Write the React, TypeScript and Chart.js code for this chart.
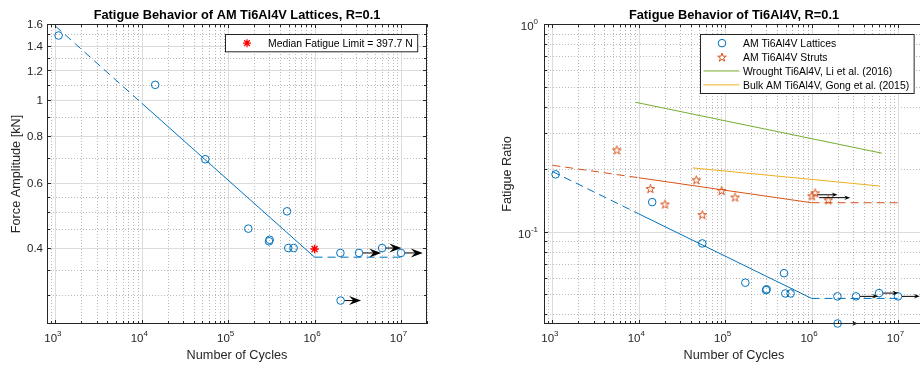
import React, { useEffect, useRef } from "react";
import { Chart, registerables } from "chart.js";

Chart.register(...registerables);

const FONT = "'Liberation Sans', Arial, Helvetica, sans-serif";
const BLUE = "#0072BD";
const ORANGE = "#D95319";
const GREEN = "#77AC30";
const YELLOW = "#EDB120";
const RED = "#FF0000";
const AXIS = "#262626";

// ---------------- shared x axis (Number of Cycles) ----------------
const cycleMin = 800;
const cycleMax = 2e7;
const cycleMajorTicks = [1e3, 1e4, 1e5, 1e6, 1e7];
const cycleTickExponents = ["3", "4", "5", "6", "7"];

// ---------------- lattice specimens (both charts) ----------------
const latticeCycles = [1090, 14300, 54300, 171000, 297000, 302000, 480000, 496000, 572000, 1990000, 3270000, 6040000, 10000000, 2000000];
const latticeForceKN = [1.49, 1.098, 0.693, 0.451, 0.417, 0.421, 0.502, 0.4, 0.4, 0.388, 0.388, 0.4, 0.388, 0.289];
const latticeFatigueRatio = [0.189, 0.139, 0.0879, 0.0569, 0.0524, 0.0529, 0.0632, 0.0505, 0.0505, 0.0489, 0.0489, 0.0507, 0.0489, 0.0362];

// run-outs (arrows)
const runoutStartCycles = [2000000, 3270000, 6040000, 10000000];
const runoutEndCycles = [3450000, 5900000, 10100000, 17900000];
const runoutForceKN = [0.289, 0.388, 0.4, 0.388];
const runoutFatigueRatio = [0.0362, 0.0489, 0.0507, 0.0489];

// lattice fit (S-N curve + endurance plateau)
const fitCycles = [1e3, 1e4, 1e6, 1e7];
const latticeFitForceKN = [1.58, 0.98, 0.378, 0.378];
const latticeFitRatio = [0.195, 0.122, 0.0478, 0.0478];

// median fatigue limit
const medianCycles = [1e6];
const medianForceKN = [0.3977];

// left y axis
const forceMin = 0.25;
const forceMax = 1.6;
const forceTicks = [0.4, 0.6, 0.8, 1, 1.2, 1.4, 1.6];
const forceTickLabels = ["0.4", "0.6", "0.8", "1", "1.2", "1.4", "1.6"];
const forceMinorTicks = [0.3, 0.35, 0.45, 0.5, 0.55, 0.7, 0.9, 1.1, 1.3, 1.5];

// ---------------- struts (right chart) ----------------
const strutCycles = [5570, 13600, 20100, 46300, 54300, 91000, 130000, 1010000, 1100000, 1560000];
const strutRatio = [0.248, 0.1615, 0.136, 0.178, 0.121, 0.158, 0.147, 0.149, 0.154, 0.1425];
const strutFitRatio = [0.209, 0.182, 0.138, 0.138];
const strutRunoutStart = [1050000, 1100000];
const strutRunoutEnd = [2000000, 2800000];
const strutRunoutRatio = [0.1507, 0.146];

// literature curves
const wroughtCycles = [9200, 6500000];
const wroughtRatio = [0.42, 0.239];
const bulkCycles = [42000, 6200000];
const bulkRatio = [0.203, 0.166];

// right y axis
const ratioMin = 0.036;
const ratioMax = 1;
const ratioTicks = [0.1, 1];
const ratioTickExponents = ["-1", "0"];

// labels
const leftTitle = "Fatigue Behavior of AM Ti6Al4V Lattices, R=0.1";
const rightTitle = "Fatigue Behavior of Ti6Al4V, R=0.1";
const xTitle = "Number of Cycles";
const leftYTitle = "Force Amplitude [kN]";
const rightYTitle = "Fatigue Ratio";
const leftLegendLabels = ["Median Fatigue Limit = 397.7 N"];
const rightLegendLabels = [
  "AM Ti6Al4V Lattices",
  "AM Ti6Al4V Struts",
  "Wrought Ti6Al4V, Li et al. (2016)",
  "Bulk AM Ti6Al4V, Gong et al. (2015)",
];

function logMinor(lo: number, hi: number): number[] {
  const out: number[] = [];
  for (let e = -3; e <= 8; e++) {
    for (let m = 2; m <= 9; m++) {
      const v = m * Math.pow(10, e);
      if (v >= lo * 0.999 && v <= hi * 1.001) out.push(v);
    }
  }
  return out;
}

function pts(xs: number[], ys: number[]) {
  return xs.map((x, i) => ({ x, y: ys[i] }));
}

function drawPentagram(ctx: CanvasRenderingContext2D, x: number, y: number, R: number, color: string, lw: number) {
  const r = R * 0.382;
  ctx.beginPath();
  for (let i = 0; i < 10; i++) {
    const rad = i % 2 === 0 ? R : r;
    const a = -Math.PI / 2 + (i * Math.PI) / 5;
    const px = x + rad * Math.cos(a);
    const py = y + rad * Math.sin(a);
    if (i === 0) ctx.moveTo(px, py);
    else ctx.lineTo(px, py);
  }
  ctx.closePath();
  ctx.strokeStyle = color;
  ctx.lineWidth = lw;
  ctx.stroke();
}

function drawAsterisk(ctx: CanvasRenderingContext2D, x: number, y: number, r: number, color: string) {
  ctx.strokeStyle = color;
  ctx.lineWidth = 1.3;
  ctx.beginPath();
  ctx.moveTo(x - r, y);
  ctx.lineTo(x + r, y);
  ctx.moveTo(x, y - r);
  ctx.lineTo(x, y + r);
  const d = r * 0.7071;
  ctx.moveTo(x - d, y - d);
  ctx.lineTo(x + d, y + d);
  ctx.moveTo(x - d, y + d);
  ctx.lineTo(x + d, y - d);
  ctx.stroke();
}

function drawArrow(ctx: CanvasRenderingContext2D, x0: number, x1: number, y: number, L: number, W: number) {
  ctx.strokeStyle = "#000";
  ctx.fillStyle = "#000";
  ctx.lineWidth = 1;
  ctx.beginPath();
  ctx.moveTo(x0, y);
  ctx.lineTo(x1 - L * 0.6, y);
  ctx.stroke();
  ctx.beginPath();
  ctx.moveTo(x1, y);
  ctx.lineTo(x1 - L, y - W / 2);
  ctx.lineTo(x1 - L * 0.65, y);
  ctx.lineTo(x1 - L, y + W / 2);
  ctx.closePath();
  ctx.fill();
}

type LegendItem = { kind: "circle" | "pentagram" | "asterisk" | "line"; color: string; label: string };
type ArrowSet = { start: number[]; end: number[]; y: number[]; L: number; W: number };
type Decor = {
  title: string;
  xLabel: string;
  yLabel: string;
  yLabelBaseline: number;
  yMajor: number[];
  yMinor: number[];
  yPlainLabels?: string[];
  yExpLabels?: string[];
  yLabelGap: number;
  legend: LegendItem[];
  arrows: ArrowSet[];
};

function powLabel(ctx: CanvasRenderingContext2D, exp: string, x: number, baseCenterY: number, align: "center" | "right") {
  ctx.font = `11.5px ${FONT}`;
  const wb = ctx.measureText("10").width;
  ctx.font = `8px ${FONT}`;
  const we = ctx.measureText(exp).width;
  const w = wb + we;
  const x0 = align === "center" ? x - w / 2 - 2.5 : x - w;
  ctx.textAlign = "left";
  ctx.textBaseline = "alphabetic";
  ctx.fillStyle = AXIS;
  ctx.font = `11.5px ${FONT}`;
  ctx.fillText("10", x0, baseCenterY + 4.1);
  ctx.font = `8px ${FONT}`;
  ctx.fillText(exp, x0 + wb, baseCenterY - 5 + 2.9);
}

function makeDecor(d: Decor) {
  const xMinor = logMinor(cycleMin, cycleMax);
  return {
    id: "matlabDecor",
    beforeDatasetsDraw(chart: any) {
      const { ctx, chartArea: a, scales } = chart;
      const xs = scales.x;
      const ys = scales.y;
      ctx.save();
      ctx.lineWidth = 1;
      ctx.strokeStyle = "rgba(38,38,38,0.32)";
      ctx.setLineDash([1, 2]);
      ctx.beginPath();
      for (const v of xMinor) {
        const px = Math.round(xs.getPixelForValue(v)) + 0.5;
        ctx.moveTo(px, a.top);
        ctx.lineTo(px, a.bottom);
      }
      for (const v of d.yMinor) {
        const py = Math.round(ys.getPixelForValue(v)) + 0.5;
        ctx.moveTo(a.left, py);
        ctx.lineTo(a.right, py);
      }
      ctx.stroke();
      ctx.setLineDash([]);
      ctx.strokeStyle = "#dcdcdc";
      ctx.beginPath();
      for (const v of cycleMajorTicks) {
        const px = Math.round(xs.getPixelForValue(v)) + 0.5;
        ctx.moveTo(px, a.top);
        ctx.lineTo(px, a.bottom);
      }
      for (const v of d.yMajor) {
        const py = Math.round(ys.getPixelForValue(v)) + 0.5;
        ctx.moveTo(a.left, py);
        ctx.lineTo(a.right, py);
      }
      ctx.stroke();
      ctx.restore();
    },
    afterDatasetsDraw(chart: any) {
      const { ctx, chartArea: a, scales } = chart;
      const xs = scales.x;
      const ys = scales.y;
      ctx.save();
      // arrows
      for (const set of d.arrows) {
        set.start.forEach((s, i) => {
          const x0 = xs.getPixelForValue(s) + 4;
          const x1 = xs.getPixelForValue(set.end[i]);
          const y = ys.getPixelForValue(set.y[i]);
          drawArrow(ctx, x0, x1, y, set.L, set.W);
        });
      }
      // frame
      ctx.strokeStyle = AXIS;
      ctx.lineWidth = 1;
      ctx.strokeRect(a.left + 0.5, a.top + 0.5, a.right - a.left - 1, a.bottom - a.top - 1);
      // tick marks (inward, all four sides)
      ctx.beginPath();
      const tx = (v: number, len: number) => {
        const px = Math.round(xs.getPixelForValue(v)) + 0.5;
        ctx.moveTo(px, a.bottom);
        ctx.lineTo(px, a.bottom - len);
        ctx.moveTo(px, a.top);
        ctx.lineTo(px, a.top + len);
      };
      const ty = (v: number, len: number) => {
        const py = Math.round(ys.getPixelForValue(v)) + 0.5;
        ctx.moveTo(a.left, py);
        ctx.lineTo(a.left + len, py);
        ctx.moveTo(a.right, py);
        ctx.lineTo(a.right - len, py);
      };
      cycleMajorTicks.forEach((v) => tx(v, 4));
      xMinor.forEach((v) => tx(v, 3));
      d.yMajor.forEach((v) => ty(v, 4));
      d.yMinor.forEach((v) => ty(v, 3));
      ctx.stroke();

      // legend
      const n = d.legend.length;
      ctx.font = `10.4px ${FONT}`;
      const tw = Math.max(...d.legend.map((it) => ctx.measureText(it.label).width));
      const w = 42.5 + tw + 5;
      const h = 17.3 + (n - 1) * 13.9;
      const lx = Math.round(a.right - 10 - w) + 0.5;
      const ly = Math.round(a.top + 10) + 0.5;
      ctx.fillStyle = "#fff";
      ctx.fillRect(lx, ly, w, h);
      ctx.strokeStyle = AXIS;
      ctx.lineWidth = 1;
      ctx.strokeRect(lx, ly, w, h);
      d.legend.forEach((it, i) => {
        const cy = ly + 8.65 + i * 13.9;
        const mx = lx + 21.5;
        if (it.kind === "circle") {
          ctx.beginPath();
          ctx.arc(mx, cy, 3.8, 0, Math.PI * 2);
          ctx.strokeStyle = it.color;
          ctx.lineWidth = 1;
          ctx.stroke();
        } else if (it.kind === "pentagram") {
          drawPentagram(ctx, mx, cy + 0.5, 4.5, it.color, 1);
        } else if (it.kind === "asterisk") {
          drawAsterisk(ctx, mx, cy, 4, it.color);
        } else {
          ctx.strokeStyle = it.color;
          ctx.lineWidth = 1;
          ctx.beginPath();
          ctx.moveTo(lx + 3, cy);
          ctx.lineTo(lx + 39, cy);
          ctx.stroke();
        }
        ctx.fillStyle = "#000";
        ctx.font = `10.4px ${FONT}`;
        ctx.textAlign = "left";
        ctx.textBaseline = "alphabetic";
        ctx.fillText(it.label, lx + 42.5, cy + 3.7);
      });
      ctx.restore();
    },
    afterDraw(chart: any) {
      const { ctx, chartArea: a, scales } = chart;
      const xs = scales.x;
      const ys = scales.y;
      ctx.save();
      // x tick labels
      cycleMajorTicks.forEach((v, i) => {
        powLabel(ctx, cycleTickExponents[i], xs.getPixelForValue(v), a.bottom + 14, "center");
      });
      // y tick labels
      d.yMajor.forEach((v, i) => {
        const py = ys.getPixelForValue(v);
        if (d.yPlainLabels) {
          ctx.font = `11.5px ${FONT}`;
          ctx.fillStyle = AXIS;
          ctx.textAlign = "right";
          ctx.textBaseline = "alphabetic";
          ctx.fillText(d.yPlainLabels[i], a.left - d.yLabelGap, py + 4.2);
        } else if (d.yExpLabels) {
          powLabel(ctx, d.yExpLabels[i], a.left - d.yLabelGap, py + 2.3, "right");
        }
      });
      // titles
      const cx = (a.left + a.right) / 2;
      ctx.fillStyle = "#000";
      ctx.font = `bold 12.8px ${FONT}`;
      ctx.textAlign = "center";
      ctx.textBaseline = "alphabetic";
      ctx.fillText(d.title, cx, 19.3);
      ctx.fillStyle = AXIS;
      ctx.font = `12.7px ${FONT}`;
      ctx.fillText(d.xLabel, cx, a.bottom + 35);
      ctx.save();
      ctx.translate(a.left - d.yLabelBaseline, (a.top + a.bottom) / 2);
      ctx.rotate(-Math.PI / 2);
      ctx.fillText(d.yLabel, 0, 0);
      ctx.restore();
      ctx.restore();
    },
  };
}

function makeScales(yMin: number, yMax: number, yWidth: number) {
  return {
    x: {
      type: "logarithmic",
      min: cycleMin,
      max: cycleMax,
      bounds: "data",
      ticks: { display: false },
      grid: { display: false, drawTicks: false },
      border: { display: false },
      afterFit: (s: any) => {
        s.height = 41;
      },
    },
    y: {
      type: "logarithmic",
      min: yMin,
      max: yMax,
      bounds: "data",
      ticks: { display: false },
      grid: { display: false, drawTicks: false },
      border: { display: false },
      afterFit: (s: any) => {
        s.width = yWidth;
      },
    },
  };
}

function lineDs(xs: number[], ys: number[], color: string, dash: number[]) {
  return {
    data: pts(xs, ys),
    showLine: true,
    borderColor: color,
    borderWidth: 1,
    borderDash: dash,
    pointRadius: 0,
    fill: false,
  };
}

const DASH = [8, 5];

export default function App() {
  const leftRef = useRef<HTMLCanvasElement>(null);
  const rightRef = useRef<HTMLCanvasElement>(null);

  useEffect(() => {
    // pentagram point style
    const star = document.createElement("canvas");
    star.width = 13;
    star.height = 13;
    const sctx = star.getContext("2d")!;
    drawPentagram(sctx, 6.5, 7, 4.6, ORANGE, 1);

    const common = {
      animation: false as const,
      responsive: false,
      events: [] as any[],
      plugins: { legend: { display: false }, tooltip: { enabled: false }, title: { display: false } },
    };

    const left = new Chart(leftRef.current!, {
      type: "scatter",
      data: {
        datasets: [
          lineDs(fitCycles.slice(0, 2), latticeFitForceKN.slice(0, 2), BLUE, DASH),
          lineDs(fitCycles.slice(1, 3), latticeFitForceKN.slice(1, 3), BLUE, []),
          lineDs(fitCycles.slice(2, 4), latticeFitForceKN.slice(2, 4), BLUE, DASH),
          {
            data: pts(latticeCycles, latticeForceKN),
            pointStyle: "circle",
            pointRadius: 3.8,
            borderColor: BLUE,
            backgroundColor: "rgba(0,0,0,0)",
            borderWidth: 1,
            clip: false,
          },
          {
            data: pts(medianCycles, medianForceKN),
            pointStyle: "star",
            pointRadius: 4.2,
            borderColor: RED,
            backgroundColor: RED,
            borderWidth: 1.4,
            clip: false,
          },
        ] as any,
      },
      options: {
        ...common,
        layout: { padding: { left: 0, top: 24, right: 33, bottom: 0 } },
        scales: makeScales(forceMin, forceMax, 47) as any,
      } as any,
      plugins: [
        makeDecor({
          title: leftTitle,
          xLabel: xTitle,
          yLabel: leftYTitle,
          yLabelBaseline: 27,
          yMajor: forceTicks,
          yMinor: forceMinorTicks,
          yPlainLabels: forceTickLabels,
          yLabelGap: 4,
          legend: [{ kind: "asterisk", color: RED, label: leftLegendLabels[0] }],
          arrows: [{ start: runoutStartCycles, end: runoutEndCycles, y: runoutForceKN, L: 12, W: 9 }],
        }),
      ],
    });

    const right = new Chart(rightRef.current!, {
      type: "scatter",
      data: {
        datasets: [
          lineDs(wroughtCycles, wroughtRatio, GREEN, []),
          lineDs(bulkCycles, bulkRatio, YELLOW, []),
          lineDs(fitCycles.slice(0, 2), strutFitRatio.slice(0, 2), ORANGE, DASH),
          lineDs(fitCycles.slice(1, 3), strutFitRatio.slice(1, 3), ORANGE, []),
          lineDs(fitCycles.slice(2, 4), strutFitRatio.slice(2, 4), ORANGE, DASH),
          lineDs(fitCycles.slice(0, 2), latticeFitRatio.slice(0, 2), BLUE, DASH),
          lineDs(fitCycles.slice(1, 3), latticeFitRatio.slice(1, 3), BLUE, []),
          lineDs(fitCycles.slice(2, 4), latticeFitRatio.slice(2, 4), BLUE, DASH),
          {
            data: pts(latticeCycles, latticeFatigueRatio),
            pointStyle: "circle",
            pointRadius: 3.8,
            borderColor: BLUE,
            backgroundColor: "rgba(0,0,0,0)",
            borderWidth: 1,
            clip: false,
          },
          {
            data: pts(strutCycles, strutRatio),
            pointStyle: star,
            pointRadius: 4.5,
            borderColor: ORANGE,
            clip: false,
          },
        ] as any,
      },
      options: {
        ...common,
        layout: { padding: { left: 0, top: 24, right: 16, bottom: 0 } },
        scales: makeScales(ratioMin, ratioMax, 84) as any,
      } as any,
      plugins: [
        makeDecor({
          title: rightTitle,
          xLabel: xTitle,
          yLabel: rightYTitle,
          yLabelBaseline: 33.5,
          yMajor: ratioTicks,
          yMinor: logMinor(ratioMin, ratioMax),
          yExpLabels: ratioTickExponents,
          yLabelGap: 6,
          legend: [
            { kind: "circle", color: BLUE, label: rightLegendLabels[0] },
            { kind: "pentagram", color: ORANGE, label: rightLegendLabels[1] },
            { kind: "line", color: GREEN, label: rightLegendLabels[2] },
            { kind: "line", color: YELLOW, label: rightLegendLabels[3] },
          ],
          arrows: [
            { start: runoutStartCycles, end: runoutEndCycles, y: runoutFatigueRatio, L: 6, W: 4.5 },
            { start: strutRunoutStart, end: strutRunoutEnd, y: strutRunoutRatio, L: 6, W: 4.5 },
          ],
        }),
      ],
    });

    return () => {
      left.destroy();
      right.destroy();
    };
  }, []);

  return (
    <div
      style={{
        position: "fixed",
        left: 0,
        top: 0,
        width: 920,
        height: 365,
        overflow: "hidden",
        background: "#fff",
      }}
    >
      <canvas
        ref={leftRef}
        width={460}
        height={365}
        style={{ position: "absolute", left: 0, top: 0, width: 460, height: 365 }}
      />
      <canvas
        ref={rightRef}
        width={480}
        height={365}
        style={{ position: "absolute", left: 460, top: 0, width: 480, height: 365 }}
      />
    </div>
  );
}
